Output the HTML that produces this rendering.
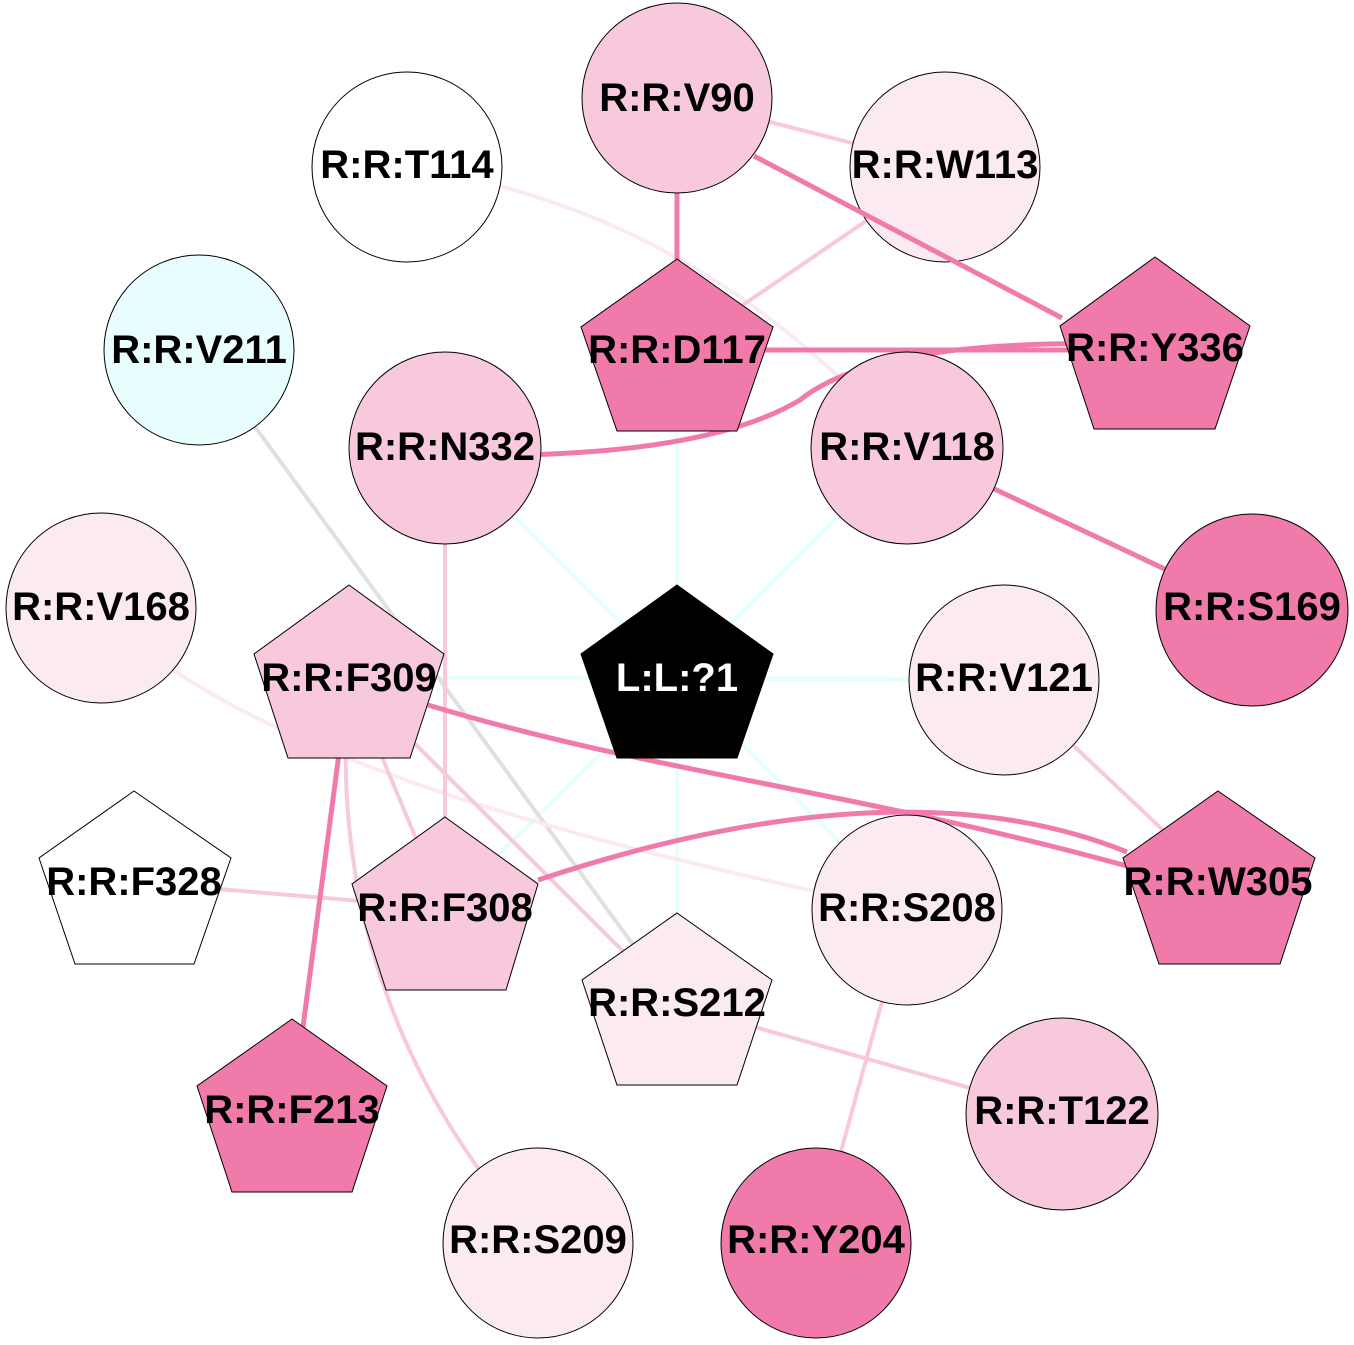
<!DOCTYPE html>
<html><head><meta charset="utf-8"><style>
html,body{margin:0;padding:0;background:#fff}
svg{display:block}
text{font-family:"Liberation Sans",Arial,sans-serif;font-weight:bold;font-size:40px;text-anchor:middle;dominant-baseline:central}
</style></head><body>
<svg width="1354" height="1345" viewBox="0 0 1354 1345" xmlns="http://www.w3.org/2000/svg">
<g fill="none" stroke-width="4">
<g stroke="#E6FEFE">
<line x1="677" y1="678" x2="445" y2="448"/>
<line x1="677" y1="678" x2="907" y2="448"/>
<line x1="677" y1="678" x2="677" y2="350"/>
<line x1="677" y1="678" x2="349" y2="678"/>
<line x1="677" y1="678" x2="1004" y2="680" stroke-width="5"/>
<line x1="677" y1="678" x2="907" y2="910"/>
<line x1="677" y1="678" x2="445" y2="908"/>
<line x1="677" y1="678" x2="677" y2="1005"/>
</g>
<line x1="199" y1="350" x2="677" y2="1005" stroke="#E0E0E0"/>
<path d="M407 167 Q700 210 907 448" stroke="#FCEAF2"/>
<path d="M101 608 Q250 780 907 910" stroke="#FCEAF2"/>
<g stroke="#F8C8DC">
<line x1="677" y1="98" x2="945" y2="167"/>
<line x1="945" y1="167" x2="677" y2="350"/>
<line x1="445" y1="448" x2="445" y2="908"/>
<line x1="349" y1="678" x2="445" y2="908"/>
<path d="M349 678 Q320 1000 538 1243"/>
<line x1="349" y1="678" x2="677" y2="1005"/>
<line x1="1004" y1="680" x2="1218" y2="882"/>
<line x1="134" y1="882" x2="445" y2="908"/>
<line x1="677" y1="1005" x2="1062" y2="1114"/>
<line x1="907" y1="910" x2="816" y2="1243"/>
</g>
<g stroke="#F07BAB" stroke-width="5">
<line x1="677" y1="98" x2="677" y2="350"/>
<line x1="677" y1="350" x2="1155" y2="350"/>
<path d="M445 455 Q700 460 800 400 Q880 335 1155 345"/>
<line x1="907" y1="448" x2="1252" y2="610"/>
<line x1="349" y1="678" x2="292" y2="1110"/>
<path d="M428 705 C650 772, 850 790, 1127 866"/>
</g>
</g>
<g stroke="#000" stroke-width="1">
<circle cx="677" cy="98" r="95" fill="#F8C8DC"/>
<circle cx="945" cy="167" r="95" fill="#FCEAF2"/>
<circle cx="407" cy="167" r="95" fill="#fff"/>
<circle cx="199" cy="350" r="95" fill="#E8FEFE"/>
<polygon points="677,259 773,327 737,431 617,431 581,327" fill="#F07BAB"/>
<polygon points="1155,257 1250,326 1215,429 1094,429 1060,326" fill="#F07BAB"/>
<circle cx="445" cy="448" r="96" fill="#F8C8DC"/>
<circle cx="907" cy="448" r="96" fill="#F8C8DC"/>
<circle cx="101" cy="608" r="95" fill="#FCEAF2"/>
<circle cx="1252" cy="610" r="96" fill="#F07BAB"/>
<polygon points="349,585 444,654 410,758 288,758 254,654" fill="#F8C8DC"/>
<polygon points="677,585 773,654 737,758 617,758 581,654" fill="#000"/>
<circle cx="1004" cy="680" r="95" fill="#FCEAF2"/>
<polygon points="134,791 231,858 194,964 75,964 39,858" fill="#fff"/>
<polygon points="445,817 538,884 506,990 386,990 352,884" fill="#F8C8DC"/>
<polygon points="1218,791 1315,858 1280,964 1159,964 1123,858" fill="#F07BAB"/>
<circle cx="907" cy="910" r="95" fill="#FCEAF2"/>
<polygon points="677,913 772,980 737,1085 617,1085 582,980" fill="#FCEAF2"/>
<circle cx="1062" cy="1114" r="96" fill="#F8C8DC"/>
<polygon points="292,1019 387,1086 352,1192 232,1192 197,1086" fill="#F07BAB"/>
<circle cx="538" cy="1243" r="95" fill="#FCEAF2"/>
<circle cx="816" cy="1243" r="95" fill="#F07BAB"/>
</g>
<g fill="none" stroke="#F07BAB" stroke-width="5">
<line x1="754" y1="156" x2="1062" y2="318"/>
<path d="M538 880 Q900 760 1127 852"/>
</g>
<g fill="#000">
<text x="677" y="98">R:R:V90</text>
<text x="945" y="165">R:R:W113</text>
<text x="407" y="165">R:R:T114</text>
<text x="199" y="350">R:R:V211</text>
<text x="677" y="350">R:R:D117</text>
<text x="1155" y="348">R:R:Y336</text>
<text x="445" y="447">R:R:N332</text>
<text x="907" y="447">R:R:V118</text>
<text x="101" y="607">R:R:V168</text>
<text x="1252" y="607">R:R:S169</text>
<text x="349" y="678">R:R:F309</text>
<text x="677" y="678" fill="#fff">L:L:?1</text>
<text x="1004" y="678">R:R:V121</text>
<text x="134" y="882">R:R:F328</text>
<text x="445" y="908">R:R:F308</text>
<text x="1218" y="882">R:R:W305</text>
<text x="907" y="908">R:R:S208</text>
<text x="677" y="1003">R:R:S212</text>
<text x="1062" y="1111">R:R:T122</text>
<text x="292" y="1110">R:R:F213</text>
<text x="538" y="1240">R:R:S209</text>
<text x="816" y="1240">R:R:Y204</text>
</g>
</svg>
</body></html>
